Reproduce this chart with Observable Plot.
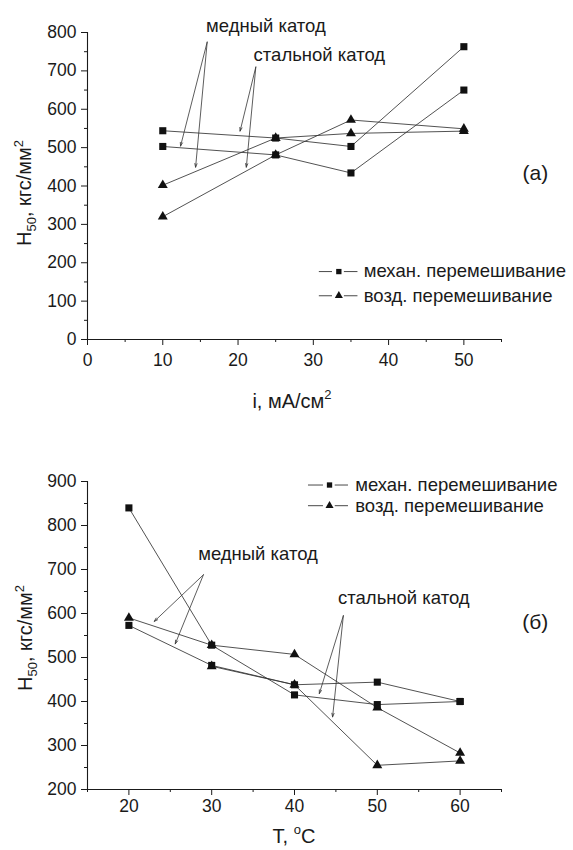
<!DOCTYPE html>
<html><head><meta charset="utf-8">
<script src="https://cdn.jsdelivr.net/npm/d3@7"></script>
<script src="https://cdn.jsdelivr.net/npm/@observablehq/plot@0.6"></script>
<style>
body{margin:0;background:#fff;}
#wrap{width:573px;}
#wrap svg{display:block;}
</style></head><body><div id="wrap"></div>
<script>
// ---- chart (а): H50 vs current density ----
const iValues = [10, 25, 35, 50];
const mechA1 = [544, 525, 503, 763];
const mechA2 = [503, 481, 434, 650];
const airA1  = [402, 525, 537, 543];
const airA2  = [320, 481, 572, 549];
const xTicksA = [0, 10, 20, 30, 40, 50];
const xMinorA = [5, 15, 25, 35, 45, 55];
const yTicksA = [0, 100, 200, 300, 400, 500, 600, 700, 800];
const yMinorA = [50, 150, 250, 350, 450, 550, 650, 750];

// ---- chart (б): H50 vs temperature ----
const tValues = [20, 30, 40, 50, 60];
const mechB1 = [840, 528, 415, 393, 400];
const mechB2 = [573, 482, 438, 444, 400];
const airB1  = [590, 528, 507, 386, 283];
const airB2  = [null, 480, 438, 255, 265];
const xTicksB = [20, 30, 40, 50, 60];
const xMinorB = [15, 25, 35, 45, 55, 65];
const yTicksB = [200, 300, 400, 500, 600, 700, 800, 900];
const yMinorB = [250, 350, 450, 550, 650, 750, 850];

// ---- texts ----
const legendLabels = ["механ. перемешивание", "возд. перемешивание"];
const legendSymbols = ["square", "triangle"];
const noteLabels = ["медный катод", "стальной катод"];
const panelLabels = ["(а)", "(б)"];

// annotation anchors (data units)
const notePosA = [[23.7, 818], [30.8, 741]];
const arrowFromA = [[15.9, 775], [15.9, 775], [22.36, 710], [22.36, 710]];
const arrowToA = [[12.36, 504], [14.36, 449], [20.27, 543], [21.1, 449]];
const notePosB = [[35.6, 734], [53.2, 636]];
const arrowFromB = [[29.0, 688], [29.0, 688], [45.9, 595], [45.9, 595]];
const arrowToB = [[23.06, 582], [25.6, 531], [43.0, 418], [44.6, 365]];
const legendPosA = {y: [177, 114], seg: [[30.8, 32.55], [34.13, 35.93]], mx: 33.39, tx: 36.7};
const legendPosB = {y: [892, 845], seg: [[41.69, 43.5], [44.92, 46.52]], mx: 44.23, tx: 47.33};
const panelPosA = [59.5, 433];
const panelPosB = [69.07, 579.5];

const FONT = "'Liberation Sans', Arial, Helvetica, sans-serif";
const INK = "#1a1a1a";

function rows(xs, ys, key) {
  return xs.map((x, i) => ({x, y: ys[i], key})).filter(d => d.y != null);
}

function build(cfg) {
  const mech = [...rows(cfg.xs, cfg.m1, "m1"), ...rows(cfg.xs, cfg.m2, "m2")];
  const air = [...rows(cfg.xs, cfg.a1, "a1"), ...rows(cfg.xs, cfg.a2, "a2")];
  const notes = noteLabels.map((label, i) => ({label, x: cfg.notePos[i][0], y: cfg.notePos[i][1]}));
  const arrows = cfg.arrowFrom.map((f, i) => ({x1: f[0], y1: f[1], x2: cfg.arrowTo[i][0], y2: cfg.arrowTo[i][1]}));
  const L = cfg.legendPos;
  const legSegs = [];
  legendLabels.forEach((label, i) => L.seg.forEach(s => legSegs.push({y: L.y[i], x1: s[0], x2: s[1]})));
  const legItems = legendLabels.map((label, i) => ({label, symbol: legendSymbols[i], y: L.y[i], mx: L.mx, tx: L.tx}));
  const [x0, x1] = cfg.xDomain, [y0, y1] = cfg.yDomain;

  const svg = Plot.plot({
    width: 573, height: cfg.height,
    marginLeft: 87, marginRight: 72, marginTop: cfg.marginTop, marginBottom: cfg.marginBottom,
    style: {fontFamily: FONT, fontSize: "17.5px", color: INK, background: "#fff", overflow: "visible"},
    x: {domain: cfg.xDomain},
    y: {domain: cfg.yDomain},
    marks: [
      Plot.ruleY([y0], {x1: x0, x2: x1, stroke: INK, strokeWidth: 1.1}),
      Plot.ruleX([x0], {y1: y0, y2: y1, stroke: INK, strokeWidth: 1.1}),
      Plot.axisX({ticks: cfg.xTicks, tickSize: 6, tickPadding: cfg.xPad, label: null, stroke: INK, fill: INK}),
      Plot.axisX({ticks: cfg.xMinor, tickSize: 3, tickFormat: () => "", label: null, stroke: INK}),
      Plot.axisY({ticks: cfg.yTicks, tickSize: 6, tickPadding: 5, label: null, stroke: INK, fill: INK}),
      Plot.axisY({ticks: cfg.yMinor, tickSize: 3, tickFormat: () => "", label: null, stroke: INK}),
      Plot.line(mech, {x: "x", y: "y", z: "key", stroke: "#333", strokeWidth: 0.85}),
      Plot.line(air, {x: "x", y: "y", z: "key", stroke: "#333", strokeWidth: 0.85}),
      Plot.dot(air, {x: "x", y: "y", symbol: "triangle", r: 3.7, fill: "#111", stroke: "none"}),
      Plot.dot(mech, {x: "x", y: "y", symbol: "square", r: 4, fill: "#111", stroke: "none"}),
      Plot.arrow(arrows, {x1: "x1", y1: "y1", x2: "x2", y2: "y2", stroke: "#333", strokeWidth: 0.8, headLength: 7, headAngle: 35}),
      Plot.text(notes, {x: "x", y: "y", text: "label", fontSize: 18.5, fill: INK}),
      Plot.ruleY(legSegs, {y: "y", x1: "x1", x2: "x2", stroke: "#333", strokeWidth: 0.9}),
      Plot.dot(legItems, {x: "mx", y: "y", symbol: "symbol", r: 3, fill: "#111", stroke: "none"}),
      Plot.text(legItems, {x: "tx", y: "y", text: "label", textAnchor: "start", fontSize: 18.5, fill: INK}),
      Plot.text([cfg.panel], {x: cfg.panelPos[0], y: cfg.panelPos[1], text: d => d, fontSize: 21, fill: INK})
    ]
  });

  const s = d3.select(svg);
  // y axis title with subscript / superscript
  const yt = s.append("text")
    .attr("transform", `translate(${cfg.yTitle[0]},${cfg.yTitle[1]}) rotate(-90)`)
    .attr("text-anchor", "middle").attr("font-size", 20).attr("fill", INK).attr("font-family", FONT);
  yt.append("tspan").text("H");
  yt.append("tspan").attr("font-size", 13).attr("dy", 5).text("50");
  yt.append("tspan").attr("dy", -5).text(", кгс/мм");
  yt.append("tspan").attr("font-size", 13).attr("dy", -8).text("2");
  // x axis title
  const xt = s.append("text")
    .attr("x", cfg.xTitle[0]).attr("y", cfg.xTitle[1])
    .attr("text-anchor", "middle").attr("font-size", 20).attr("fill", INK).attr("font-family", FONT);
  cfg.xTitleParts(xt);
  return svg;
}

const wrap = document.getElementById("wrap");
wrap.appendChild(build({
  xs: iValues, m1: mechA1, m2: mechA2, a1: airA1, a2: airA2,
  xDomain: [0, 55], yDomain: [0, 800], height: 440, marginTop: 32, marginBottom: 101,
  xTicks: xTicksA, xMinor: xMinorA, yTicks: yTicksA, yMinor: yMinorA, xPad: 8,
  notePos: notePosA, arrowFrom: arrowFromA, arrowTo: arrowToA, legendPos: legendPosA,
  panel: panelLabels[0], panelPos: panelPosA,
  yTitle: [31, 193], xTitle: [292, 408],
  xTitleParts: t => { t.append("tspan").text("i, мА/см"); t.append("tspan").attr("font-size", 13).attr("dy", -9).text("2"); }
}));
wrap.appendChild(build({
  xs: tValues, m1: mechB1, m2: mechB2, a1: airB1, a2: airB2,
  xDomain: [15, 65], yDomain: [200, 900], height: 410, marginTop: 41, marginBottom: 61,
  xTicks: xTicksB, xMinor: xMinorB, yTicks: yTicksB, yMinor: yMinorB, xPad: 4,
  notePos: notePosB, arrowFrom: arrowFromB, arrowTo: arrowToB, legendPos: legendPosB,
  panel: panelLabels[1], panelPos: panelPosB,
  yTitle: [31.5, 198], xTitle: [294, 403],
  xTitleParts: t => { t.append("tspan").text("T, "); t.append("tspan").attr("font-size", 13).attr("dy", -9).text("o"); t.append("tspan").attr("dy", 9).text("C"); }
}));
</script></body></html>
